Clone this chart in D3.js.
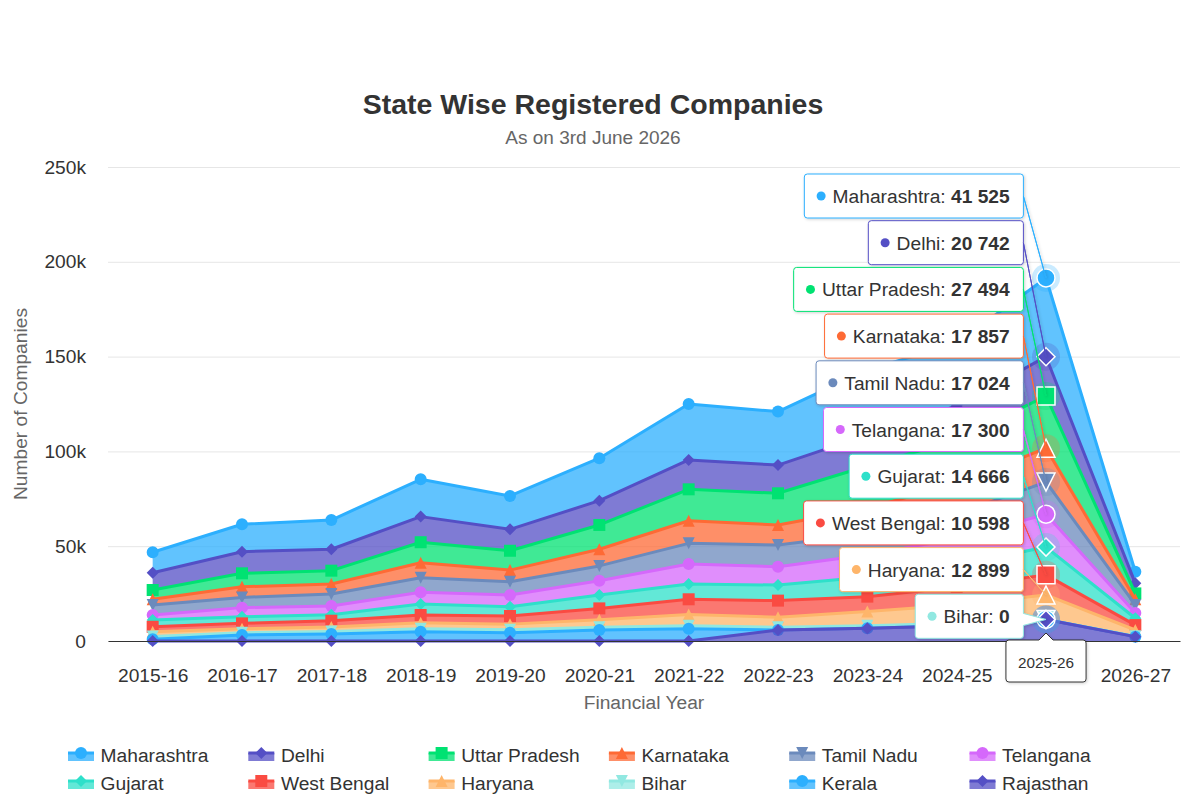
<!DOCTYPE html>
<html>
<head>
<meta charset="utf-8">
<title>State Wise Registered Companies</title>
<script src="https://cdn.jsdelivr.net/npm/d3@7"></script>
<style>
    body { margin: 0; background: #fff; }
    svg { display: block; font-family: "Liberation Sans", Helvetica, Arial, sans-serif; }
</style>
</head>
<body>
<svg id="chart" width="1186" height="804"></svg>
<script>
// ---- data ----
const years = ['2015-16', '2016-17', '2017-18', '2018-19', '2019-20', '2020-21',
    '2021-22', '2022-23', '2023-24', '2024-25', '2025-26', '2026-27'];

const states = ['Maharashtra', 'Delhi', 'Uttar Pradesh', 'Karnataka', 'Tamil Nadu', 'Telangana',
    'Gujarat', 'West Bengal', 'Haryana', 'Bihar', 'Kerala', 'Rajasthan'];

const maharashtra = [10800, 14500, 15400, 19700, 17600, 22400, 29500, 28200, 34400, 33000, 41525, 6100];
const delhi = [9100, 11400, 11300, 13500, 11300, 12800, 15500, 14900, 16300, 18000, 20742, 5300];
const uttarPradesh = [4900, 7100, 7000, 10800, 10200, 12800, 16600, 16700, 22300, 23000, 27494, 3100];
const karnataka = [3000, 5600, 5300, 7900, 6100, 8800, 11900, 10600, 13500, 16000, 17857, 3000];
const tamilNadu = [5300, 5400, 6300, 7700, 7000, 7800, 10900, 11400, 11000, 13000, 17024, 4200];
const telangana = [2600, 4800, 4600, 6200, 6200, 7500, 10500, 9700, 11700, 14000, 17300, 2800];
const gujarat = [3600, 3500, 3200, 5800, 4900, 7100, 8100, 8200, 10400, 11500, 14666, 3600];
const westBengal = [2600, 2900, 3300, 4100, 4300, 6000, 8000, 8800, 7900, 9500, 10598, 2600];
const haryana = [2500, 2000, 2400, 3100, 3000, 3900, 6000, 5300, 7500, 9700, 12899, 3300];
const bihar = [1500, 1200, 1300, 1600, 1500, 1500, 1500, 1400, 1300, 1300, 0, 200];
const kerala = [900, 3200, 3700, 4900, 4400, 5800, 6500, 0, 0, 0, 0, 0];
const rajasthan = [0, 0, 0, 0, 0, 0, 0, 5800, 6700, 8000, 11380, 2300];

const seriesValues = [maharashtra, delhi, uttarPradesh, karnataka, tamilNadu, telangana,
    gujarat, westBengal, haryana, bihar, kerala, rajasthan];

const yTicks = [0, 50000, 100000, 150000, 200000, 250000];

// hovered category and the series listed in its split tooltip
const hoverYear = '2025-26';
const tooltipStates = states.slice(0, 10);

// ---- styles ----
const colors = ['#2caffe', '#544fc5', '#00e272', '#fe6a35', '#6b8abc', '#d568fb',
    '#2ee0ca', '#fa4b42', '#feb56a', '#91e8e1', '#2caffe', '#544fc5'];
const symbolTypes = ['circle', 'diamond', 'square', 'triangle', 'triangle-down'];

const width = 1186;
const height = 804;
const plot = { left: 108, right: 1180, top: 167, bottom: 641 };

const svg = d3.select('#chart');

const defs = svg.append('defs');
defs.append('filter')
    .attr('id', 'shadow')
    .attr('x', '-20%').attr('y', '-30%').attr('width', '140%').attr('height', '170%')
    .append('feDropShadow')
    .attr('dx', 1).attr('dy', 1).attr('stdDeviation', 1.5)
    .attr('flood-color', '#000').attr('flood-opacity', 0.18);

svg.append('rect').attr('width', width).attr('height', height).attr('fill', '#fff');

// Title + subtitle
svg.append('text')
    .attr('x', width / 2).attr('y', 114)
    .attr('text-anchor', 'middle')
    .style('font-size', '28.5px').style('font-weight', 'bold').attr('fill', '#333')
    .text('State Wise Registered Companies');

svg.append('text')
    .attr('x', width / 2).attr('y', 144)
    .attr('text-anchor', 'middle')
    .style('font-size', '19px').attr('fill', '#666')
    .text('As on 3rd June 2026');

// Scales
const xScale = d3.scalePoint()
    .domain(years)
    .range([plot.left, plot.right])
    .padding(0.5);

const yScale = d3.scaleLinear()
    .domain([0, 250000])
    .range([plot.bottom, plot.top]);

// Gridlines (behind everything)
const grid = svg.append('g')
    .attr('transform', `translate(${plot.left}, 0)`)
    .call(d3.axisLeft(yScale).tickValues(yTicks).tickFormat('').tickSize(-(plot.right - plot.left)));
grid.select('.domain').remove();
grid.selectAll('line').attr('stroke', '#e6e6e6');

// Y axis labels
const yAxis = svg.append('g')
    .attr('transform', `translate(${plot.left}, 0)`)
    .call(d3.axisLeft(yScale)
        .tickValues(yTicks)
        .tickSize(0)
        .tickPadding(22)
        .tickFormat((d) => (d === 0 ? '0' : d / 1000 + 'k')));
yAxis.select('.domain').remove();
yAxis.selectAll('text')
    .attr('font-family', null)
    .style('font-size', '19.2px')
    .attr('fill', '#333');

svg.append('text')
    .attr('transform', `translate(27, ${(plot.top + plot.bottom) / 2}) rotate(-90)`)
    .attr('text-anchor', 'middle')
    .style('font-size', '19.2px').attr('fill', '#666')
    .text('Number of Companies');

// Stack: first series sits on top (Highcharts order)
const rows = years.map((year, i) => {
    const row = { year };
    states.forEach((s, k) => { row[s] = seriesValues[k][i]; });
    return row;
});
const stacked = d3.stack().keys(states.slice().reverse())(rows);
const stackOf = (name) => stacked.find((s) => s.key === name);

const area = d3.area()
    .x((d) => xScale(d.data.year))
    .y0((d) => yScale(d[0]))
    .y1((d) => yScale(d[1]));

const line = d3.line()
    .x((d) => xScale(d.data.year))
    .y((d) => yScale(d[1]));

function symbolPath(type, cx, cy, r) {
    const p = d3.path();
    if (type === 'circle') {
        p.moveTo(cx + r, cy);
        p.arc(cx, cy, r, 0, 2 * Math.PI);
    } else if (type === 'square') {
        p.rect(cx - r, cy - r, 2 * r, 2 * r);
    } else if (type === 'diamond') {
        p.moveTo(cx, cy - r); p.lineTo(cx + r, cy); p.lineTo(cx, cy + r); p.lineTo(cx - r, cy);
        p.closePath();
    } else if (type === 'triangle') {
        p.moveTo(cx, cy - r); p.lineTo(cx + r, cy + r); p.lineTo(cx - r, cy + r);
        p.closePath();
    } else {
        p.moveTo(cx - r, cy - r); p.lineTo(cx + r, cy - r); p.lineTo(cx, cy + r);
        p.closePath();
    }
    return p.toString();
}

const hoverIndex = years.indexOf(hoverYear);

// Series: area band, line, markers
const seriesLayer = svg.append('g').attr('class', 'series');
states.forEach((name, k) => {
    const st = stackOf(name);
    const color = colors[k];
    const type = symbolTypes[k % symbolTypes.length];
    const g = seriesLayer.append('g');

    g.append('path')
        .attr('d', area(st))
        .attr('fill', color)
        .attr('fill-opacity', 0.75);

    g.append('path')
        .attr('d', line(st))
        .attr('fill', 'none')
        .attr('stroke', color)
        .attr('stroke-width', 3)
        .attr('stroke-linejoin', 'round');

    g.selectAll('path.marker')
        .data(st.filter((d, i) => i !== hoverIndex))
        .join('path')
        .attr('class', 'marker')
        .attr('d', (d) => symbolPath(type, xScale(d.data.year), yScale(d[1]), 6))
        .attr('fill', color);
});

// X axis
const xAxis = svg.append('g')
    .attr('transform', `translate(0, ${plot.bottom})`)
    .call(d3.axisBottom(xScale).tickSize(0).tickSizeOuter(0).tickPadding(27));
xAxis.select('.domain').attr('stroke', '#333');
xAxis.selectAll('text')
    .attr('font-family', null)
    .style('font-size', '19.2px')
    .attr('fill', '#333');

svg.append('text')
    .attr('x', (plot.left + plot.right) / 2).attr('y', 709)
    .attr('text-anchor', 'middle')
    .style('font-size', '19.2px').attr('fill', '#666')
    .text('Financial Year');

// Hover state at the hovered category: halos + enlarged markers
const hoverLayer = svg.append('g').attr('class', 'hover');
states.forEach((name, k) => {
    const d = stackOf(name)[hoverIndex];
    hoverLayer.append('circle')
        .attr('cx', xScale(d.data.year)).attr('cy', yScale(d[1]))
        .attr('r', 14)
        .attr('fill', colors[k]).attr('fill-opacity', 0.25);
});
states.forEach((name, k) => {
    const d = stackOf(name)[hoverIndex];
    hoverLayer.append('path')
        .attr('d', symbolPath(symbolTypes[k % symbolTypes.length], xScale(d.data.year), yScale(d[1]), 9))
        .attr('fill', colors[k])
        .attr('stroke', '#fff')
        .attr('stroke-width', 1.5);
});

// Legend
const legend = svg.append('g').attr('class', 'legend');
states.forEach((name, k) => {
    const col = k % 6;
    const row = Math.floor(k / 6);
    const sx = 68 + col * 180.3;
    const ly = 753 + row * 28;
    const color = colors[k];
    const item = legend.append('g');

    item.append('rect')
        .attr('x', sx).attr('y', ly).attr('width', 26).attr('height', 8)
        .attr('fill', color).attr('fill-opacity', 0.75);
    item.append('path')
        .attr('d', `M${sx},${ly}H${sx + 26}`)
        .attr('stroke', color).attr('stroke-width', 3);
    item.append('path')
        .attr('d', symbolPath(symbolTypes[k % symbolTypes.length], sx + 13, ly, 6))
        .attr('fill', color);
    item.append('text')
        .attr('x', sx + 32.6).attr('y', ly + 8.5)
        .style('font-size', '19.2px').attr('fill', '#333')
        .text(name);
});

// Split tooltip
const fmt = (v) => d3.format(',')(v).replace(/,/g, ' ');

function distribute(targets, size, min, max) {
    let groups = targets.map((t, i) => ({ idx: [i] }));
    const place = (g) => {
        const s = d3.mean(g.idx, (i, n) => targets[i] - n * size);
        g.start = Math.max(min, Math.min(max - g.idx.length * size, s));
    };
    groups.forEach(place);
    let merged = true;
    while (merged) {
        merged = false;
        for (let i = 0; i < groups.length - 1; i++) {
            const a = groups[i];
            const b = groups[i + 1];
            if (a.start + a.idx.length * size > b.start) {
                a.idx = a.idx.concat(b.idx);
                groups.splice(i + 1, 1);
                place(a);
                merged = true;
                break;
            }
        }
    }
    const out = [];
    groups.forEach((g) => g.idx.forEach((i, n) => { out[i] = g.start + n * size; }));
    return out;
}

function callout(x, y, w, h, r, ax, ay, side) {
    const p = [`M${x + r},${y}`];
    if (side === 'top') {
        p.push(`L${ax - 7},${y}`, `L${ax},${ay}`, `L${ax + 7},${y}`);
    }
    p.push(`L${x + w - r},${y}`, `A${r},${r} 0 0 1 ${x + w},${y + r}`);
    if (side === 'right') {
        if (ay > y + r + 6 && ay < y + h - r - 6) {
            p.push(`L${x + w},${ay - 6}`, `L${ax},${ay}`, `L${x + w},${ay + 6}`);
        } else {
            p.push(`L${x + w},${y + h / 2}`, `L${ax},${ay}`, `L${x + w},${y + h / 2}`);
        }
    }
    p.push(`L${x + w},${y + h - r}`, `A${r},${r} 0 0 1 ${x + w - r},${y + h}`,
        `L${x + r},${y + h}`, `A${r},${r} 0 0 1 ${x},${y + h - r}`,
        `L${x},${y + r}`, `A${r},${r} 0 0 1 ${x + r},${y}`, 'Z');
    return p.join('');
}

const tip = svg.append('g').attr('class', 'tooltip');
const anchorX = xScale(hoverYear);
const boxH = 44;

const entries = tooltipStates.map((name) => {
    const k = states.indexOf(name);
    return {
        name,
        color: colors[k],
        value: seriesValues[k][hoverIndex],
        ay: yScale(stackOf(name)[hoverIndex][1]),
    };
});
const tops = distribute(entries.map((e) => e.ay - boxH / 2), boxH + 2.7, plot.top - 20, plot.bottom);

entries.forEach((e, i) => {
    const g = tip.append('g');
    const box = g.append('path');
    const text = g.append('text')
        .style('font-size', '19.2px').attr('fill', '#333');
    text.append('tspan').text(e.name + ': ');
    text.append('tspan').style('font-weight', 'bold').text(fmt(e.value));
    const tw = text.node().getComputedTextLength();
    const w = tw + 42;
    const bx = anchorX - 22.6 - w;
    const by = tops[i];

    box.attr('d', callout(bx, by, w, boxH, 3, anchorX, e.ay, 'right'))
        .attr('fill', '#fff')
        .attr('stroke', e.color)
        .attr('stroke-width', 1)
        .attr('filter', 'url(#shadow)');
    g.append('circle')
        .attr('cx', bx + 16.8).attr('cy', by + boxH / 2)
        .attr('r', 4.5)
        .attr('fill', e.color);
    text.attr('x', bx + 28.3).attr('y', by + 29);
});

// Tooltip header (category) under the axis, covering its axis label
const header = tip.append('g');
const headerText = header.append('text')
    .attr('text-anchor', 'middle')
    .style('font-size', '15.3px').attr('fill', '#333')
    .text(hoverYear);
const hw = headerText.node().getComputedTextLength() + 24;
const hx = anchorX - hw / 2;
const hy = plot.bottom - 1;
header.insert('path', 'text')
    .attr('d', callout(hx, hy, hw, 42, 3, anchorX, plot.bottom - 8, 'top'))
    .attr('fill', '#fff')
    .attr('stroke', '#333')
    .attr('stroke-width', 1)
    .attr('filter', 'url(#shadow)');
headerText.attr('x', anchorX).attr('y', hy + 28);
</script>
</body>
</html>
